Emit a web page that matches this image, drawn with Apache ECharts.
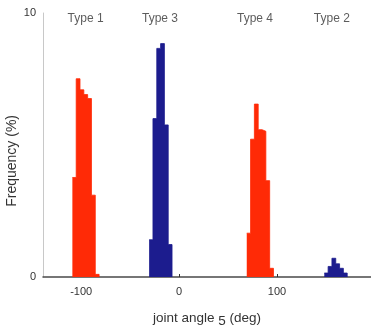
<!DOCTYPE html>
<html>
<head>
<meta charset="utf-8">
<style>
html,body{margin:0;padding:0;background:#fff;}
#c{width:371px;height:333px;}
</style>
<script src="https://cdn.jsdelivr.net/npm/echarts@6/dist/echarts.min.js"></script>
</head>
<body>
<div id="c"></div>
<script>
// Histogram bins: left edge of each bin (deg) and frequency (%)
const binWidth = 3.9;
const type1Start = [-109, -105.1, -101.2, -97.3, -93.4, -89.5, -85.6];
const type1Freq  = [3.77, 7.51, 7.09, 6.91, 6.76, 3.1, 0.1];
const type3Start = [-30.6, -26.7, -22.8, -18.9, -15.0, -11.1];
const type3Freq  = [1.41, 6.0, 8.66, 8.84, 5.76, 1.23];
const type4Start = [69.1, 73.0, 76.9, 80.8, 84.7, 88.6, 92.5];
const type4Freq  = [1.66, 5.22, 6.55, 5.58, 5.52, 3.65, 0.33];
const type2Start = [148.3, 152.2, 156.1, 160.0, 163.9, 167.8];
const type2Freq  = [0.15, 0.4, 0.71, 0.5, 0.33, 0.15];

const typeLabels = ['Type 1', 'Type 3', 'Type 4', 'Type 2'];
const typeLabelX = [-95.5, -19.5, 77.5, 156];
const typeLabelY = 9.8;

const xTicks = [-100, 0, 100];
const yTicks = [0, 10];

const RED = '#ff2a06';
const BLUE = '#1c1c8e';

// step outline: each bin holds its value until the next edge, closing at 0
function stepData(starts, freqs){
  const d = starts.map((s,i)=>[s, freqs[i]]);
  d.push([starts[starts.length-1] + binWidth, 0]);
  return d;
}

function histSeries(starts, freqs, color){
  return {
    type: 'line',
    step: 'end',
    data: stepData(starts, freqs),
    symbol: 'none',
    lineStyle: {color: color, width: 0.8},
    areaStyle: {color: color, opacity: 1, origin: 'start'},
    z: 2,
    silent: true
  };
}

const chart = echarts.init(document.getElementById('c'), null, {renderer: 'canvas'});
const font = 'Liberation Sans, Arial, sans-serif';
chart.setOption({
  animation: false,
  grid: {left: 43, right: 0, top: 13, bottom: 44, containLabel: false},
  xAxis: {
    type: 'value',
    min: -139, max: 196,
    splitLine: {show: false},
    axisLine: {show: true, onZero: false, lineStyle: {color: '#4a4a4a', width: 1.5}},
    axisTick: {show: true, inside: true, length: 3, customValues: xTicks, lineStyle: {color: '#333'}},
    axisLabel: {customValues: xTicks, margin: 9, fontSize: 11, color: '#333', fontFamily: font},
    name: 'joint angle {sub|5} (deg)',
    nameLocation: 'middle',
    nameGap: 31,
    nameTextStyle: {fontSize: 13.5, color: '#333', fontFamily: font,
      rich: {sub: {fontSize: 13.5, color: '#333', fontFamily: font, verticalAlign: 'bottom', padding: [6,0,0,0]}}}
  },
  yAxis: {
    type: 'value',
    min: 0, max: 10, interval: 10,
    splitLine: {show: false},
    axisLine: {show: true, onZero: false, lineStyle: {color: '#c8c8c8', width: 1}},
    axisTick: {show: false},
    axisLabel: {margin: 7, fontSize: 11, color: '#333', fontFamily: font, customValues: yTicks}
  },
  graphic: [{
    type: 'text',
    left: 5, top: 115,
    rotation: Math.PI/2,
    style: {text: 'Frequency (%)', fontSize: 14, fill: '#333', fontFamily: font}
  }],
  series: [
    histSeries(type1Start, type1Freq, RED),
    histSeries(type3Start, type3Freq, BLUE),
    histSeries(type4Start, type4Freq, RED),
    histSeries(type2Start, type2Freq, BLUE),
    {
      type: 'scatter',
      symbolSize: 0,
      data: typeLabelX.map((x,i)=>({value:[x, typeLabelY], name: typeLabels[i]})),
      label: {show: true, position: 'inside', formatter: p => p.name, fontSize: 12, color: '#333', fontFamily: font},
      silent: true
    }
  ]
});
</script>
</body>
</html>
